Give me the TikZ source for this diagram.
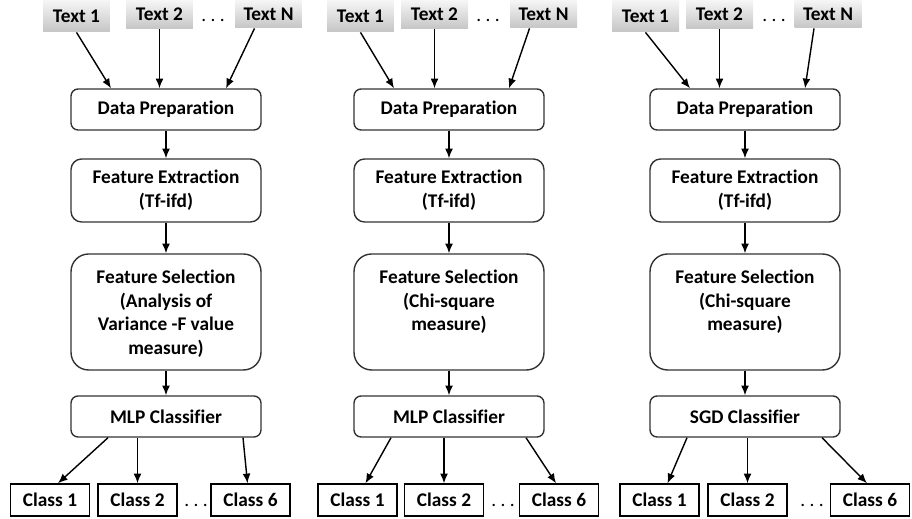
\documentclass[tikz,border=0pt]{standalone}
\usepackage{fontspec}
\setmainfont{Carlito}[Ligatures=NoCommon]
\usetikzlibrary{positioning,calc,arrows.meta}

\tikzset{
  textbox/.style={top color=gray!8, bottom color=gray!45, minimum width=1.34cm, inner sep=2pt},
  stage/.style={draw=black!80, line width=0.8pt, rounded corners=4pt, fill=white,
    minimum width=3.8cm, minimum height=0.82cm, align=center},
  classbox/.style={draw, line width=0.8pt, minimum width=1.58cm, minimum height=0.64cm},
  dotsnode/.style={font=\fontsize{11}{13}\selectfont\mdseries, inner sep=1pt}
}

\begin{document}
\begin{tikzpicture}[
  x=0.02cm, y=-0.02cm,
  font=\fontsize{11}{13.5}\selectfont\bfseries,
  >={Latex[length=5.5pt,width=4.5pt]},
  line width=0.8pt
]
\useasboundingbox (0,0) rectangle (912,519);

\foreach \c/\x/\ta/\tb/\tn/\td/\ka/\kb/\kf/\kd/\fs/\cl in {
  1/166/76.5/159.5/268.5/213/50/137.5/250.5/196/{Feature Selection\\(Analysis of\\Variance -F value\\measure)}/MLP,
  2/449/360.5/434.5/543.5/488/357.5/444/559/503/{Feature Selection\\(Chi-square\\measure)}/MLP,
  3/745/645.5/719.5/828/774/659.5/747.5/870/812/{Feature Selection\\(Chi-square\\measure)}/SGD} {

  % Input texts
  \node[textbox, minimum height=0.62cm, anchor=north] (ta\c) at (\ta,0) {Text 1};
  \node[textbox, minimum height=0.56cm, anchor=north] (tb\c) at (\tb,0) {Text 2};
  \node[textbox, minimum height=0.54cm, anchor=north] (tn\c) at (\tn,0) {Text N};
  \node[dotsnode] (td\c) at (\td,20) {.\ .\ .};

  % Pipeline
  \node[stage] (dp\c) at (\x,109.5) {Data Preparation};
  \node[stage, minimum height=1.26cm, rounded corners=6pt] (fe\c) at (\x,190.5) {Feature Extraction\\(Tf-ifd)};
  \node[stage, minimum height=2.32cm, rounded corners=10pt] (fs\c) at (\x,312) {};
  \node[below=9pt of fs\c.north, inner sep=0pt, align=center] (fst\c) {\fs};
  \node[stage] (cf\c) at (\x,416.5) {\cl{} Classifier};

  \draw[->] (ta\c.south) -- ($(dp\c.north)+(-55,0)$);
  \draw[->] (tb\c.south) -- (tb\c.south |- dp\c.north);
  \draw[->] ($(tn\c.south)+(-14,0)$) -- ($(dp\c.north)+(60,0)$);
  \draw[->] (dp\c) -- (fe\c);
  \draw[->] (fe\c) -- (fs\c);
  \draw[->] (fs\c) -- (cf\c);

  % Output classes
  \node[classbox] (ka\c) at (\ka,500) {Class 1};
  \node[classbox] (kb\c) at (\kb,500) {Class 2};
  \node[classbox] (kf\c) at (\kf,500) {Class 6};
  \node[dotsnode] (kd\c) at (\kd,505) {.\ .\ .};

  \draw[->] ($(cf\c.south)+(-58,0)$) -- ($(ka\c.north)+(8,0)$);
  \draw[->] (cf\c.south -| kb\c.north) -- (kb\c.north);
  \draw[->] ($(cf\c.south)+(77,0)$) -- ($(kf\c.north)+(-3,0)$);
}

\end{tikzpicture}
\end{document}
